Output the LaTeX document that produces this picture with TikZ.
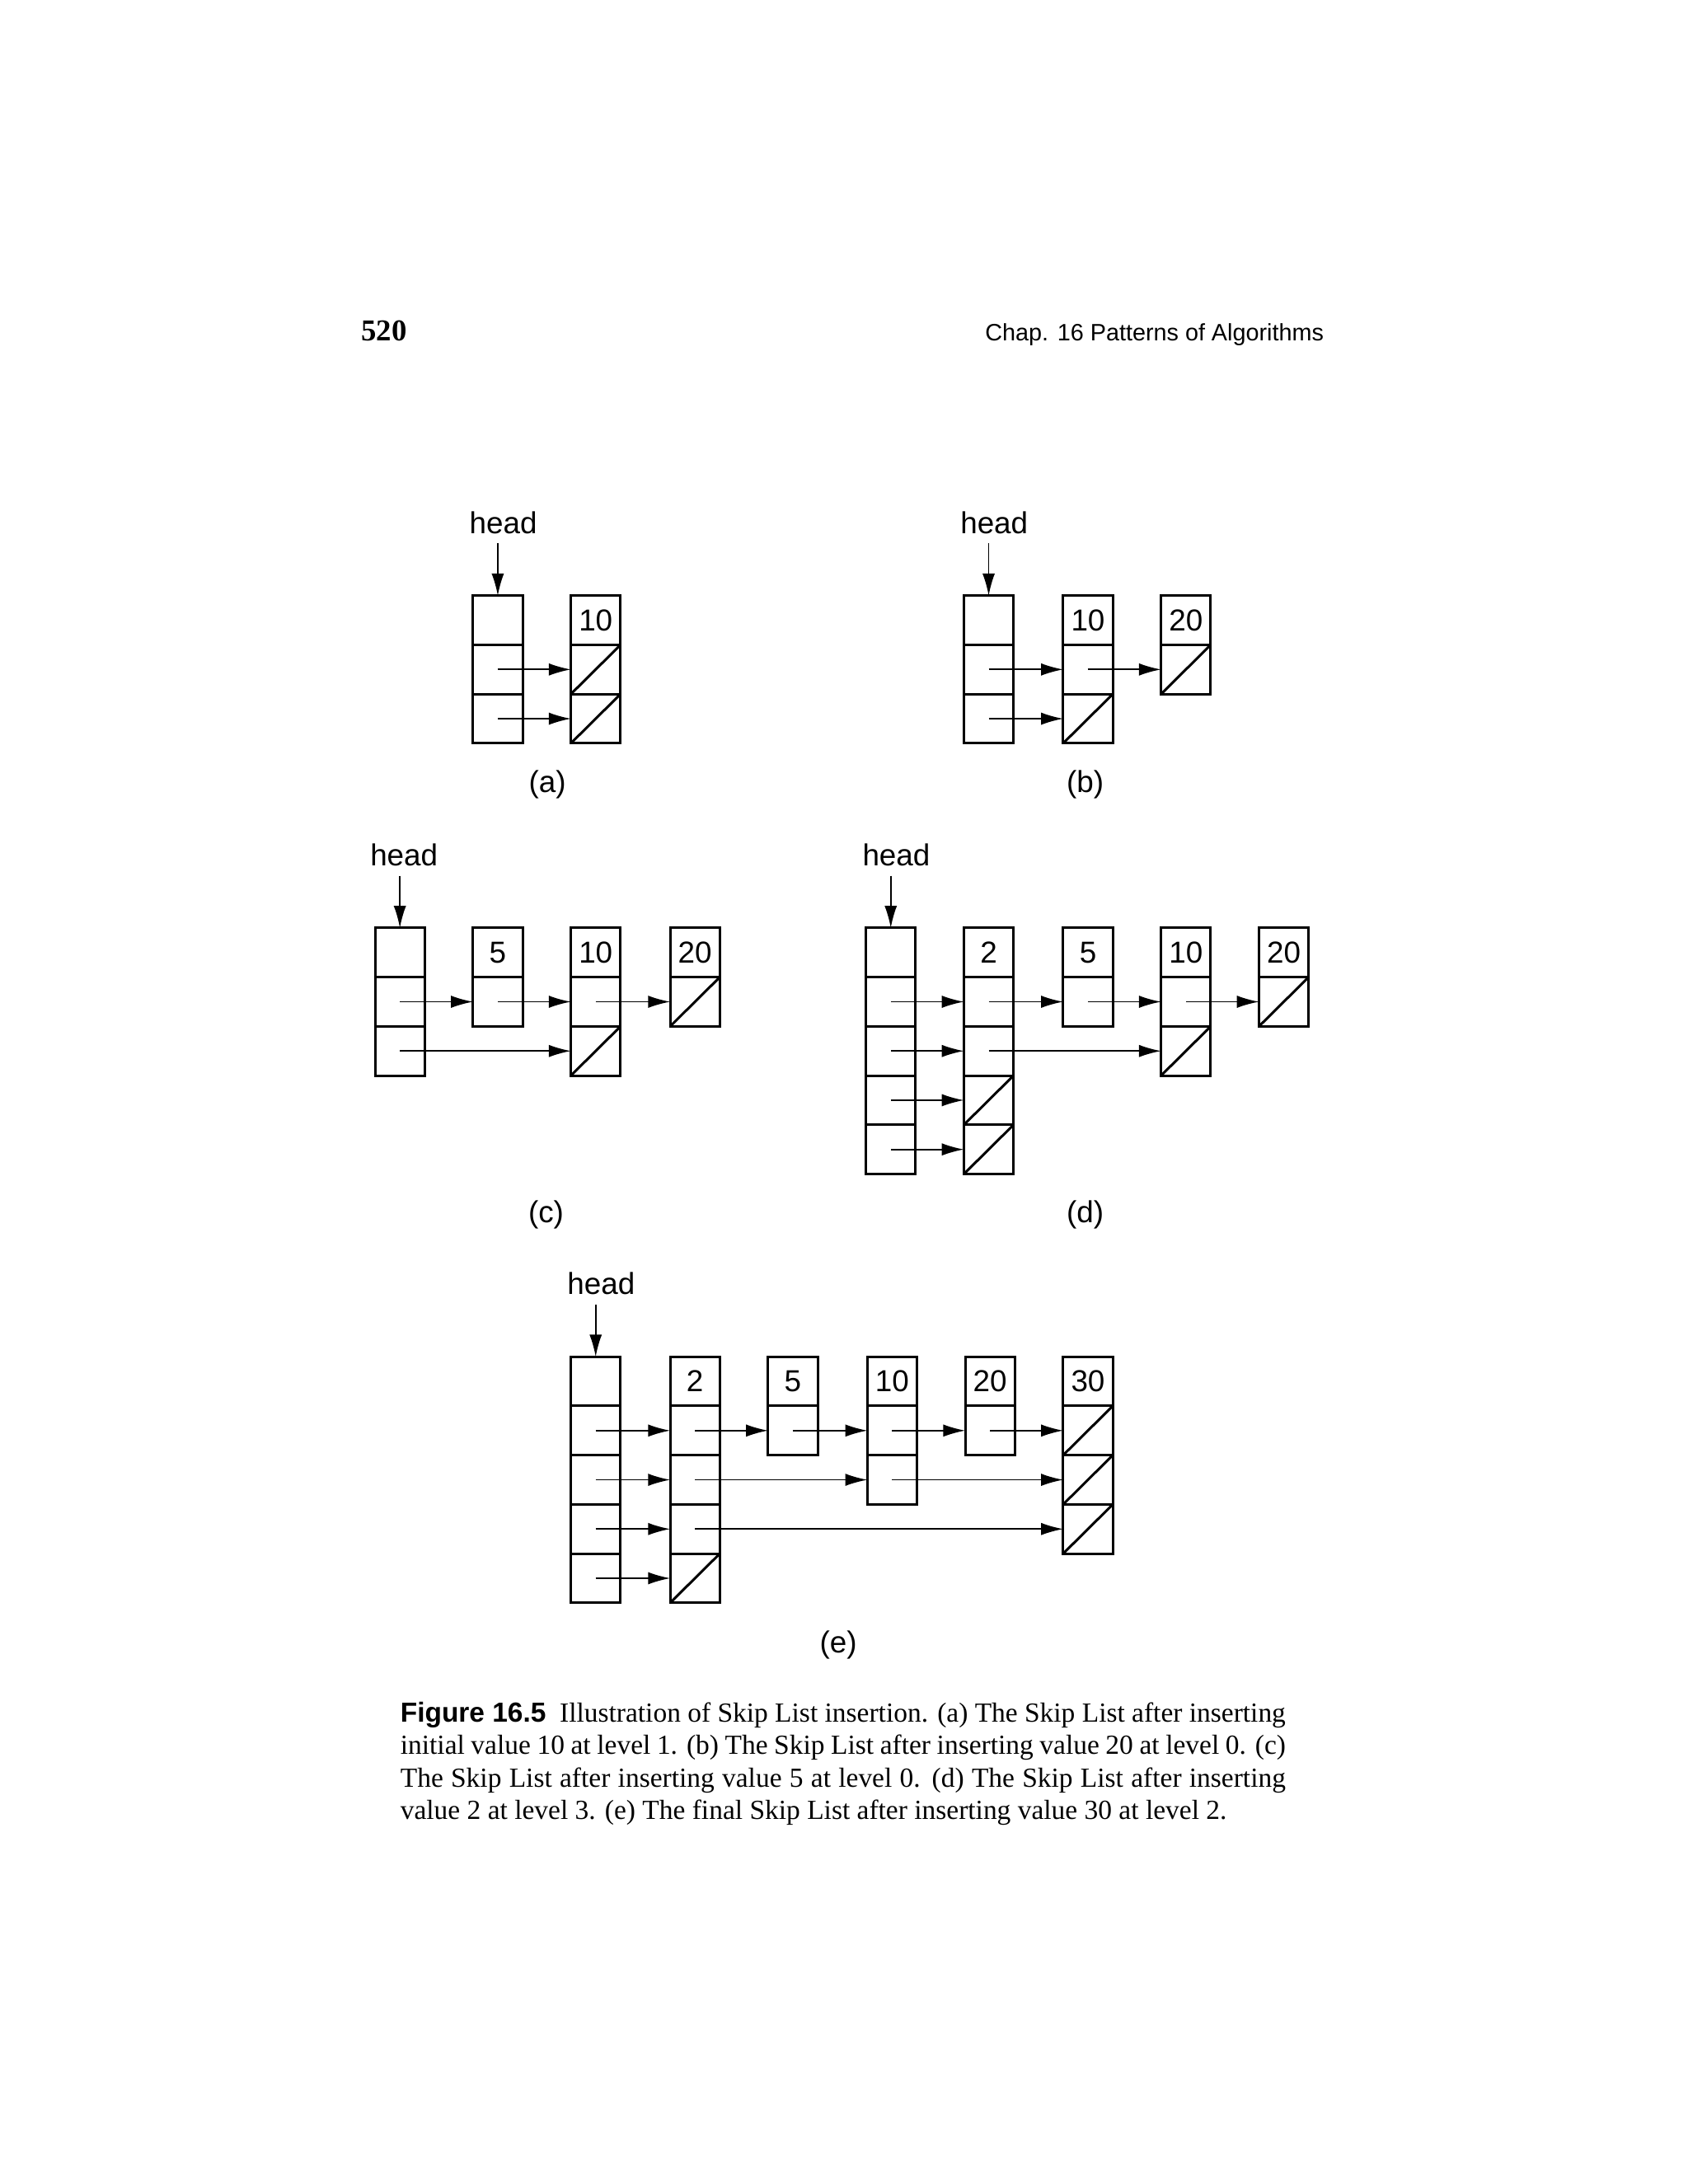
\documentclass[tikz,border=0pt]{standalone}
\usepackage{fontspec}
\setmainfont{Liberation Serif}
\setsansfont{Liberation Sans}
\usetikzlibrary{arrows.meta}
\newcommand\skcol[5]{%
  \foreach \i in {1,...,#4}{%
    \node[cell] (#1-\i) at ({#2+18},{#3+35.7*(\i-0.5)}) {\ifnum\i=1 #5\fi};
  }%
}
\newcommand\nul[1]{\draw[boxline] (#1.south west) -- (#1.north east);}
\newcommand\ptr[2]{\draw[ptr] (#1.center) -- (#2.west);}
\begin{document}
\begin{tikzpicture}[x=0.5pt,y=-0.5pt,
  cell/.style={draw,line width=0.9pt,minimum width=18pt,minimum height=17.85pt,inner sep=0pt,outer sep=0pt,font=\sffamily\fontsize{11}{13}\selectfont},
  boxline/.style={line width=0.9pt},
  ptr/.style={line width=0.5pt,-{Latex[length=8pt,width=4.5pt]}},
  lab/.style={font=\sffamily\fontsize{11}{13}\selectfont}]
\useasboundingbox[fill=white] (0,0) rectangle (1224,1584);
% header
\node[anchor=base west,font=\bfseries\fontsize{11}{13}\selectfont] (pg) at (255,247) {520};
\node[anchor=base east,font=\sffamily\fontsize{8.6}{10}\selectfont] (chap) at (967,247) {Chap. 16 Patterns of Algorithms};
% (a)
\skcol{a-h}{343}{432}{3}{}
\skcol{a-10}{414}{432}{3}{10}
\ptr{a-h-2}{a-10-2}\ptr{a-h-3}{a-10-3}
\nul{a-10-2}\nul{a-10-3}
\node[lab] (a-head) at (365,379) {head};
\draw[ptr] (a-h-1.north |- a-head.south) -- (a-h-1.north);
\node[lab] (la) at (397,569) {(a)};
% (b)
\skcol{b-h}{699}{432}{3}{}
\skcol{b-10}{771}{432}{3}{10}
\skcol{b-20}{842}{432}{2}{20}
\ptr{b-h-2}{b-10-2}\ptr{b-h-3}{b-10-3}\ptr{b-10-2}{b-20-2}
\nul{b-10-3}\nul{b-20-2}
\node[lab] (b-head) at (721,379) {head};
\draw[ptr] (b-h-1.north |- b-head.south) -- (b-h-1.north);
\node[lab] (lb) at (787,569) {(b)};
% (c)
\skcol{c-h}{272}{673}{3}{}
\skcol{c-5}{343}{673}{2}{5}
\skcol{c-10}{414}{673}{3}{10}
\skcol{c-20}{486}{673}{2}{20}
\ptr{c-h-2}{c-5-2}\ptr{c-5-2}{c-10-2}\ptr{c-10-2}{c-20-2}\ptr{c-h-3}{c-10-3}
\nul{c-20-2}\nul{c-10-3}
\node[lab] (c-head) at (293,620) {head};
\draw[ptr] (c-h-1.north |- c-head.south) -- (c-h-1.north);
\node[lab] (lc) at (396,881) {(c)};
% (d)
\skcol{d-h}{628}{673}{5}{}
\skcol{d-2}{699}{673}{5}{2}
\skcol{d-5}{771}{673}{2}{5}
\skcol{d-10}{842}{673}{3}{10}
\skcol{d-20}{913}{673}{2}{20}
\ptr{d-h-2}{d-2-2}\ptr{d-2-2}{d-5-2}\ptr{d-5-2}{d-10-2}\ptr{d-10-2}{d-20-2}
\ptr{d-h-3}{d-2-3}\ptr{d-2-3}{d-10-3}
\ptr{d-h-4}{d-2-4}\ptr{d-h-5}{d-2-5}
\nul{d-20-2}\nul{d-10-3}\nul{d-2-4}\nul{d-2-5}
\node[lab] (d-head) at (650,620) {head};
\draw[ptr] (d-h-1.north |- d-head.south) -- (d-h-1.north);
\node[lab] (ld) at (787,881) {(d)};
% (e)
\skcol{e-h}{414}{984}{5}{}
\skcol{e-2}{486}{984}{5}{2}
\skcol{e-5}{557}{984}{2}{5}
\skcol{e-10}{629}{984}{3}{10}
\skcol{e-20}{700}{984}{2}{20}
\skcol{e-30}{771}{984}{4}{30}
\ptr{e-h-2}{e-2-2}\ptr{e-2-2}{e-5-2}\ptr{e-5-2}{e-10-2}\ptr{e-10-2}{e-20-2}\ptr{e-20-2}{e-30-2}
\ptr{e-h-3}{e-2-3}\ptr{e-2-3}{e-10-3}\ptr{e-10-3}{e-30-3}
\ptr{e-h-4}{e-2-4}\ptr{e-2-4}{e-30-4}
\ptr{e-h-5}{e-2-5}
\nul{e-30-2}\nul{e-30-3}\nul{e-30-4}\nul{e-2-5}
\node[lab] (e-head) at (436,931) {head};
\draw[ptr] (e-h-1.north |- e-head.south) -- (e-h-1.north);
\node[lab] (le) at (608,1193) {(e)};
% caption
\node[anchor=north west,inner sep=0pt,text width=321pt,align=justify,font=\fontsize{10}{11.8}\selectfont] (cap) at (290,1234)
{{\sffamily\bfseries Figure 16.5}\ \ Illustration of Skip List insertion. (a) The Skip List after inserting initial value 10 at level 1. (b) The Skip List after inserting value 20 at level 0. (c) The Skip List after inserting value 5 at level 0. (d) The Skip List after inserting value 2 at level 3. (e) The final Skip List after inserting value 30 at level 2.};
\end{tikzpicture}
\end{document}
